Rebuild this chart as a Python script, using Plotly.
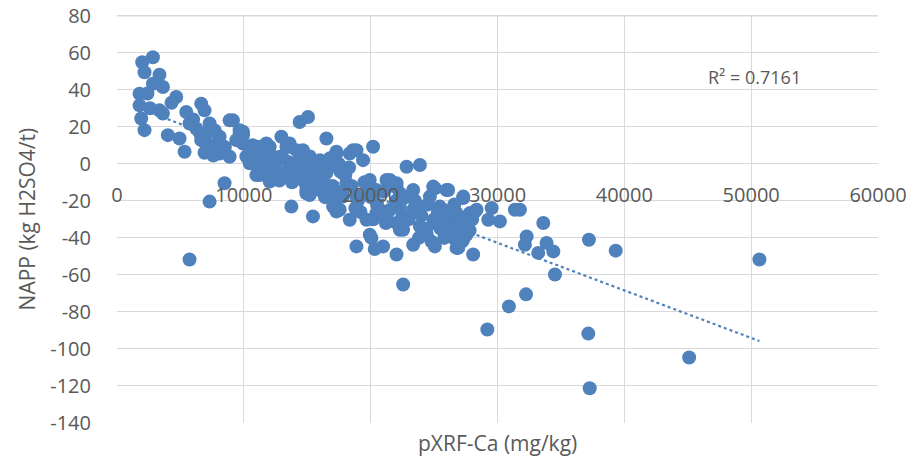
import numpy as np
import plotly.graph_objects as go

# pXRF-Ca (mg/kg) and NAPP (kg H2SO4/t)
ca = [
    2830, 1990, 2170, 3350, 3620, 2830, 1780, 4670, 1780, 3350, 5460, 6640, 6900, 1910, 3620,
    2170, 4010, 4930, 5330, 5720, 6250, 7300, 8880, 9670, 9930, 6640, 7300, 8090, 8090, 8880,
    9410, 10990, 11780, 12960, 13360, 14140, 11250, 12300, 13360, 14400, 8480, 10460, 12560,
    2400, 2600, 4300, 6000, 6500, 7000, 7700, 7900, 8500, 6900, 7600,
    10200, 10700, 11500, 11200, 12000, 12500, 13000, 13500, 14000, 14400, 13800, 12800,
    15060, 16510, 9140, 9670, 9930, 11250, 12040, 13610, 14660, 10720, 12830, 11780, 14140,
    15450, 17300, 18350, 18880, 20190, 19400, 16770, 15980, 17820, 14930, 13090, 10990, 12040,
    14140, 22830, 15190, 16770, 18090, 19930, 21250, 22040, 13750, 15450, 17560, 18350, 19930,
    20460, 22040, 22560, 18880, 20980,
    23880, 25060, 26110, 27300, 28220, 29540, 29270, 30190, 31370, 33610, 32300, 32160, 33870,
    33210, 34400, 34530, 23350, 22040, 25060, 26770, 28080, 27300, 24400, 25980, 22300, 21250,
    22300, 23620, 24930, 26240, 26770, 26770, 25450, 24670, 23350, 22040,
    20060, 20320, 22560, 26900, 27300, 25980, 24930, 23880, 24400, 26770, 27560, 22300, 19670,
    17300, 17040, 14930, 20720, 23350, 22300, 20460, 18880, 17820, 15980, 16250, 21510, 25720,
    25720, 27820, 28350,
    9930, 10990, 13610, 17300, 18610, 10460, 15450, 13610, 14930,
    7300, 5720, 29200, 30900, 32250, 31770, 37210, 39320, 50650, 37160, 45110, 37270,
    14500, 15000, 15500, 16000, 16500, 17000, 17500, 18000, 14800, 15800, 16400, 17200, 17800,
    18300, 15200, 16800, 17600, 14200,
    18500, 19000, 19500, 20000, 20500, 21000, 21500, 22000, 22500, 19200, 20200, 21200, 22800,
    18800, 19800, 21800, 20800, 23000,
    23500, 24000, 24500, 25000, 25500, 26000, 26500, 27000, 27500, 23800, 24800, 25800, 26300,
    27200, 24200, 25300, 26600, 27800, 28000,
]
napp = [
    57.6, 54.9, 49.5, 48.1, 41.5, 43.3, 37.9, 36.1, 31.6, 28.9, 28.0, 32.5, 28.9, 24.5, 27.2,
    18.2, 15.5, 13.7, 6.5, 21.8, 19.1, 21.8, 23.5, 18.2, 15.5, 12.8, 9.2, 14.6, 5.6, 3.8,
    12.8, 7.4, 11.0, 14.6, 9.2, 7.4, -6.0, -5.1, -6.9, 22.6, -10.5, 0.3, 2.0,
    38, 30, 33, 24, 17, 15, 18, 11, 9, 6, 4.5,
    4, 10, 3, -2, 6, -2, 4, 1, -3, 3, -10, -9,
    25.3, 13.7, 23.5, 16.4, 11.0, 9.2, 9.2, 9.2, 7.4, 3.8, 3.8, -1.6, -0.6,
    1.1, 5.6, 5.6, 7.4, 9.2, 2.0, -1.6, -3.3, -5.1, -6.9, -5.1, -6.0, -9.6,
    -7.8, -1.6, -16.8, -15.9, -10.5, -8.7, -8.7, -12.3, -23.1, -28.4, -24.8, -30.2, -38.3,
    -26.6, -32.0, -35.6, -44.6, -44.6,
    -0.6, -13.2, -14.1, -18.5, -25.8, -23.9, -30.2, -31.1, -24.8, -32.0, -39.2, -43.7, -42.7,
    -48.1, -47.3, -59.8, -43.7, -49.0, -44.6, -45.4, -49.0, -41.0, -37.4, -37.4, -33.8, -28.4,
    -23.1, -24.8, -32.0, -32.0, -30.2, -26.6, -23.1, -17.7, -14.1, -10.5,
    -40.0, -46.0, -65.2, -45.4, -17.7, -14.1, -12.3, -33.8, -38.3, -39.2, -38.3, -35.6, -30.2,
    -25.8, -23.1, -15.9, -24.8, -24.8, -15.9, -14.1, -17.7, -17.7, -14.1, -8.7, -8.7, -24.8,
    -30.2, -26.6, -24.8,
    17.3, 9.2, 11.0, 6.5, 7.4, 1.1, -0.6, -5.1, -14.1,
    -20.4, -51.7, -89.5, -77.0, -70.5, -24.8, -41.0, -46.9, -51.7, -91.7, -104.6, -121.2,
    0, -3, -8, 2, -5, -12, 0, -6, -10, -12, -18, -20, -15,
    -2, 4, 3, -4, -4,
    -12, -20, -10, -18, -22, -15, -25, -20, -28, -26, -30, -32, -18,
    -24, -14, -12, -26, -30,
    -20, -28, -22, -30, -35, -26, -40, -34, -30, -40, -42, -40, -36,
    -42, -35, -26, -22, -36, -30,
]

x_ticks = [0, 10000, 20000, 30000, 40000, 50000, 60000]
x_tick_text = ["0", "10000", "20000", "30000", "40000", "50000", "60000"]
y_ticks = [-140, -120, -100, -80, -60, -40, -20, 0, 20, 40, 60, 80]
y_tick_text = ["-140", "-120", "-100", "-80", "-60", "-40", "-20", "0", "20", "40", "60", "80"]
r2_label = "R² = 0.7161"
x_title = "pXRF-Ca (mg/kg)"
y_title = "NAPP (kg H2SO4/t)"

blue = "#4F81BD"
grid = "#D9D9D9"
text_col = "#595959"
font_family = "Open Sans, Liberation Sans, sans-serif"

xa = np.array(ca, dtype=float)
ya = np.array(napp, dtype=float)
slope, intercept = np.polyfit(xa, ya, 1)
tx = np.array([xa.min(), xa.max()])
ty = slope * tx + intercept

fig = go.Figure()
fig.add_trace(go.Scatter(
    x=tx, y=ty, mode="lines",
    line=dict(color=blue, width=2.2, dash="dot"),
    hoverinfo="skip", showlegend=False,
))
fig.add_trace(go.Scatter(
    x=ca, y=napp, mode="markers",
    marker=dict(color=blue, size=14, line=dict(width=0)),
    showlegend=False,
))

# a hair of headroom so the top (80) gridline sits inside the plot area
ymin, ymax = -140, 80.4
fig.update_layout(
    width=913, height=464,
    margin=dict(l=117, r=35, t=15, b=41),
    paper_bgcolor="white", plot_bgcolor="white",
    font=dict(family=font_family, color=text_col, size=20),
    xaxis=dict(
        range=[0, 60000], tickvals=x_ticks, ticktext=x_tick_text,
        showgrid=True, gridcolor=grid, gridwidth=1.3, zeroline=False,
        showline=False, ticks="", anchor="free", automargin=False,
        position=(0 - ymin) / (ymax - ymin),
        ticklabelstandoff=17, ticklabeloverflow="allow",
        tickfont=dict(size=20, color=text_col),
    ),
    yaxis=dict(
        range=[ymin, ymax], tickvals=y_ticks, ticktext=y_tick_text,
        showgrid=True, gridcolor=grid, gridwidth=1.3, zeroline=False,
        showline=False, ticks="", ticklabelstandoff=25, automargin=False,
        ticklabeloverflow="allow",
        tickfont=dict(size=20, color=text_col),
    ),
    shapes=[
        dict(type="line", xref="paper", yref="y", x0=0, x1=1,
             y0=max(y_ticks), y1=max(y_ticks), layer="below",
             line=dict(color=grid, width=1.3)),
    ],
    annotations=[
        dict(x=46400, y=47, xref="x", yref="y", text=r2_label, showarrow=False,
             xanchor="left", yanchor="middle", font=dict(size=18, color=text_col)),
        dict(x=0.5, y=-0.049, xref="paper", yref="paper", text=x_title, showarrow=False,
             xanchor="center", yanchor="middle", font=dict(size=21, color=text_col)),
        dict(x=-0.1177, y=0.5, xref="paper", yref="paper", text=y_title, showarrow=False,
             textangle=-90, xanchor="center", yanchor="middle", font=dict(size=21, color=text_col)),
    ],
)

fig.write_html("out.html", config={"displayModeBar": False},
               post_script="document.body.style.margin='0';")
